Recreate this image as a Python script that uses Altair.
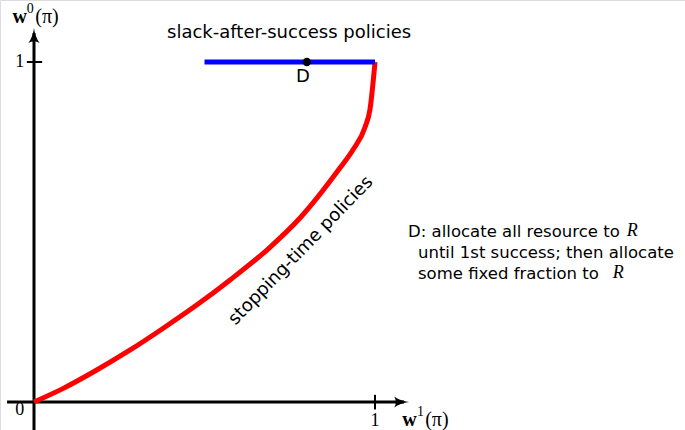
import altair as alt
import pandas as pd

# Achievable region boundary: stopping-time policies (red) and
# slack-after-success policies (blue), in (w1, w0) coordinates.
stop_w1 = [0.0, 0.086, 0.184, 0.282, 0.379, 0.477, 0.575, 0.683, 0.780, 0.897, 0.935, 0.971, 0.985, 1.0]
stop_w0 = [0.0, 0.040, 0.094, 0.153, 0.217, 0.285, 0.359, 0.447, 0.541, 0.688, 0.741, 0.809, 0.859, 1.0]

slack_w1 = [0.5, 1.0]
slack_w0 = [1.0, 1.0]

point_d_w1 = [0.80]
point_d_w0 = [1.0]

W, H = 685, 430
X_DOM = [-0.0997, 1.909]
Y_DOM = [-0.0824, 1.1824]

xs = alt.Scale(domain=X_DOM, nice=False, zero=False)
ys = alt.Scale(domain=Y_DOM, nice=False, zero=False)


def X(field="x"):
    return alt.X(f"{field}:Q", scale=xs, axis=None)


def Y(field="y"):
    return alt.Y(f"{field}:Q", scale=ys, axis=None)


stop_df = pd.DataFrame({"x": stop_w1, "y": stop_w0, "i": range(len(stop_w1))})
slack_df = pd.DataFrame({"x": slack_w1, "y": slack_w0, "i": range(len(slack_w1))})
d_df = pd.DataFrame({"x": point_d_w1, "y": point_d_w0})

# Coordinate axes drawn as lines with arrow heads
axes_df = pd.DataFrame({
    "x": [-0.079, 0.0],
    "y": [0.0, -0.0824],
    "x2": [1.085, 0.0],
    "y2": [0.0, 1.085],
})
axes = alt.Chart(axes_df).mark_rule(color="black", strokeWidth=3).encode(
    x=X(), y=Y(), x2="x2:Q", y2="y2:Q"
)

ticks_df = pd.DataFrame({
    "x": [-0.021, 1.0],
    "y": [1.0, -0.022],
    "x2": [0.024, 1.0],
    "y2": [1.0, 0.021],
})
ticks = alt.Chart(ticks_df).mark_rule(color="black", strokeWidth=2).encode(
    x=X(), y=Y(), x2="x2:Q", y2="y2:Q"
)

ARROW_RIGHT = "M -1 -0.75 Q -0.2 -0.15 1 0 Q -0.2 0.15 -1 0.75 Q -0.55 0 -1 -0.75 Z"
ARROW_UP = "M -0.75 1 Q -0.15 0.2 0 -1 Q 0.15 0.2 0.75 1 Q 0 0.55 -0.75 1 Z"

head_x = alt.Chart(pd.DataFrame({"x": [1.078], "y": [0.0]})).mark_point(
    shape=ARROW_RIGHT, filled=True, color="black", size=220, opacity=1
).encode(x=X(), y=Y())
head_y = alt.Chart(pd.DataFrame({"x": [0.0], "y": [1.078]})).mark_point(
    shape=ARROW_UP, filled=True, color="black", size=220, opacity=1
).encode(x=X(), y=Y())

stop_line = alt.Chart(stop_df).mark_line(color="#ff0000", strokeWidth=5, interpolate="monotone").encode(
    x=X(), y=Y(), order="i:Q"
)
slack_line = alt.Chart(slack_df).mark_line(color="#0000ff", strokeWidth=5).encode(
    x=X(), y=Y(), order="i:Q"
)
d_point = alt.Chart(d_df).mark_point(filled=True, color="black", size=70, opacity=1).encode(
    x=X(), y=Y()
)

SANS = "DejaVu Sans"
SERIF = "Liberation Serif"

# Plain sans annotations (positions in data coordinates)
sans_df = pd.DataFrame({
    "x": [0.748, 0.789],
    "y": [1.085, 0.956],
    "t": ["slack-after-success policies", "D"],
})
sans_text = alt.Chart(sans_df).mark_text(font=SANS, fontSize=18, align="center", baseline="middle").encode(
    x=X(), y=Y(), text="t:N"
)

curve_label = alt.Chart(pd.DataFrame({"x": [0.783], "y": [0.445], "t": ["stopping-time policies"]})).mark_text(
    font=SANS, fontSize=18, align="center", baseline="middle", angle=314
).encode(x=X(), y=Y(), text="t:N")

note_df = pd.DataFrame({
    "x": [1.097, 1.126, 1.126],
    "y": [0.500, 0.438, 0.376],
    "t": ["D: allocate all resource to", "until 1st success; then allocate", "some fixed fraction to"],
})
note_text = alt.Chart(note_df).mark_text(font=SANS, fontSize=16.5, align="left", baseline="middle").encode(
    x=X(), y=Y(), text="t:N"
)
note_r = alt.Chart(pd.DataFrame({"x": [1.738, 1.697], "y": [0.503, 0.379], "t": ["R", "R"]})).mark_text(
    font=SERIF, fontSize=18, fontStyle="italic", align="left", baseline="middle"
).encode(x=X(), y=Y(), text="t:N")

# Tick labels
tick_lab = alt.Chart(pd.DataFrame({
    "x": [-0.042, -0.042, 1.0],
    "y": [1.0, -0.024, -0.055],
    "t": ["1", "0", "1"],
})).mark_text(font=SERIF, fontSize=18, align="center", baseline="middle").encode(
    x=X(), y=Y(), text="t:N"
)

# Axis titles w^0(pi) and w^1(pi)
w_bold = alt.Chart(pd.DataFrame({"x": [-0.063, 1.080], "y": [1.132, -0.053], "t": ["w", "w"]})).mark_text(
    font=SERIF, fontSize=20, fontWeight="bold", align="left", baseline="middle"
).encode(x=X(), y=Y(), text="t:N")
w_sup = alt.Chart(pd.DataFrame({"x": [-0.021, 1.123], "y": [1.157, -0.028], "t": ["0", "1"]})).mark_text(
    font=SERIF, fontSize=14, align="left", baseline="middle"
).encode(x=X(), y=Y(), text="t:N")
w_paren = alt.Chart(pd.DataFrame({"x": [0.004, 1.147], "y": [1.132, -0.053], "t": ["(π)", "(π)"]})).mark_text(
    font=SERIF, fontSize=20, align="left", baseline="middle"
).encode(x=X(), y=Y(), text="t:N")

chart = alt.layer(
    axes, ticks, head_x, head_y, stop_line, slack_line, d_point,
    sans_text, curve_label, note_text, note_r, tick_lab, w_bold, w_sup, w_paren,
).properties(
    width=W, height=H, padding=0, autosize=alt.AutoSizeParams(type="none"),
).configure_view(stroke=None).configure(background="white")

chart.save("out.html", embed_options={"renderer": "svg", "actions": False})
